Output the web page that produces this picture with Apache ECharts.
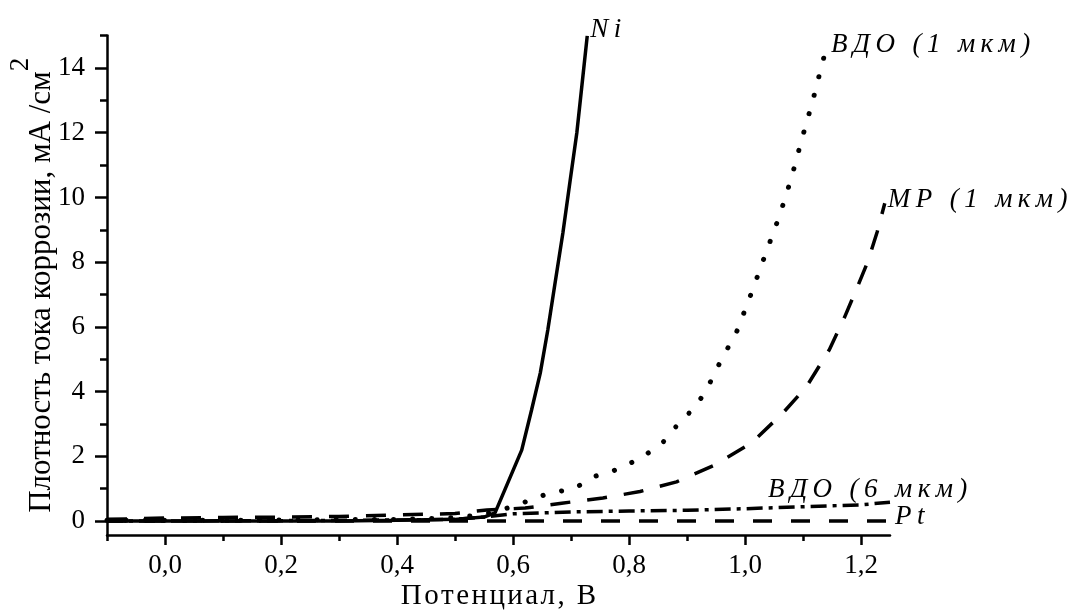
<!DOCTYPE html>
<html>
<head>
<meta charset="utf-8">
<script src="https://cdn.jsdelivr.net/npm/echarts@6/dist/echarts.min.js"></script>
<style>
  html, body { margin: 0; padding: 0; background: #fff; }
  #chart { width: 1067px; height: 610px; }
</style>
</head>
<body>
<div id="chart"></div>
<script>
// curves (potential, V -> current density, mA/cm2)
var niX = [-0.1, 0.0, 0.1, 0.2, 0.3, 0.4, 0.5, 0.55, 0.569, 0.615, 0.632, 0.647, 0.66, 0.672, 0.686, 0.698, 0.71, 0.719, 0.728];
var niY = [0.0, 0.0, 0.0, 0.0, 0.0, 0.02, 0.05, 0.12, 0.25, 2.19, 3.43, 4.57, 5.9, 7.29, 8.9, 10.45, 11.99, 13.49, 14.99];

var vdo1X = [-0.1, 0.0, 0.2, 0.4, 0.5, 0.55, 0.6, 0.664, 0.704, 0.743, 0.781, 0.821, 0.858, 0.885, 0.916, 0.936, 0.952, 0.987, 1.013, 1.036, 1.06, 1.08, 1.098, 1.117, 1.134, 1.143];
var vdo1Y = [0.02, 0.02, 0.03, 0.05, 0.1, 0.2, 0.45, 0.87, 0.99, 1.39, 1.6, 1.95, 2.42, 3.0, 3.56, 4.14, 4.73, 5.9, 7.14, 8.28, 9.46, 10.6, 11.8, 13.0, 14.2, 14.77];

var mrX = [-0.1, 0.0, 0.1, 0.2, 0.3, 0.4, 0.5, 0.555, 0.621, 0.684, 0.755, 0.819, 0.882, 0.948, 1.011, 1.065, 1.106, 1.145, 1.171, 1.193, 1.212, 1.228, 1.241];
var mrY = [0.05, 0.09, 0.11, 0.12, 0.14, 0.19, 0.23, 0.34, 0.4, 0.55, 0.71, 0.91, 1.21, 1.73, 2.41, 3.33, 4.15, 5.28, 6.27, 7.2, 8.03, 8.94, 9.82];

var vdo6X = [-0.1, 0.0, 0.2, 0.4, 0.5, 0.55, 0.6, 0.7, 0.8, 0.9, 1.0, 1.1, 1.2, 1.25];
var vdo6Y = [0.0, 0.0, 0.01, 0.03, 0.05, 0.12, 0.22, 0.28, 0.31, 0.33, 0.38, 0.44, 0.5, 0.58];

var ptX = [-0.1, 0.2, 0.5, 0.8, 1.0, 1.25];
var ptY = [0.0, 0.0, 0.0, 0.0, 0.0, 0.0];

var seriesNames = ['Ni', 'ВДО (1 мкм)', 'МР (1 мкм)', 'ВДО (6 мкм)', 'Pt'];
var xTickLabels = ['0,0', '0,2', '0,4', '0,6', '0,8', '1,0', '1,2'];
var yTickLabels = ['0', '2', '4', '6', '8', '10', '12', '14'];

function pairs (xs, ys) {
  return xs.map(function (x, i) { return [x, ys[i]]; });
}

var serif = 'Liberation Serif';
var ink = '#000';

var labelFont = {
  fontFamily: serif,
  fontStyle: 'italic',
  fontSize: 27,
  color: ink
};

function line (name, xs, ys, style, labelOffset) {
  return {
    name: name,
    type: 'line',
    xAxisIndex: 0,
    yAxisIndex: 0,
    data: pairs(xs, ys),
    showSymbol: false,
    symbol: 'none',
    lineStyle: Object.assign({ color: ink }, style),
    endLabel: Object.assign({
      show: true,
      formatter: name.split('').join('\u2009'),
      distance: 3,
      offset: labelOffset
    }, labelFont),
    emphasis: { disabled: true }
  };
}

var noLine = { show: false, onZero: false };

var chart = echarts.init(document.getElementById('chart'));

chart.setOption({
  animation: false,
  backgroundColor: '#fff',
  grid: [
    // data grid, axis lines
    { left: 107, right: 177, top: 35.6, bottom: 75, outerBoundsMode: 'none' },
    // minor ticks
    { left: 107, right: 206, top: 35.6, bottom: 89, outerBoundsMode: 'none' },
    // major ticks + labels
    { left: 165, right: 206, top: 68, bottom: 89, outerBoundsMode: 'none' }
  ],
  xAxis: [
    {
      gridIndex: 0, type: 'value', min: -0.1, max: 1.25,
      axisLine: { show: true, onZero: false, lineStyle: { color: ink, width: 2.5 } },
      axisTick: { show: false }, axisLabel: { show: false }, splitLine: { show: false },
      name: 'Потенциал, В'.split('').join('\u200a'),
      nameLocation: 'middle', nameGap: 47,
      nameTextStyle: { fontFamily: serif, fontSize: 29, color: ink }
    },
    {
      gridIndex: 1, type: 'value', min: -0.1, max: 1.2, interval: 0.1, offset: 14,
      axisLine: noLine,
      axisTick: { show: true, length: 6, lineStyle: { color: ink, width: 2.5 } },
      axisLabel: { show: false }, splitLine: { show: false }
    },
    {
      gridIndex: 2, type: 'value', min: 0, max: 1.2, interval: 0.2, offset: 14,
      axisLine: noLine,
      axisTick: { show: true, length: 10, lineStyle: { color: ink, width: 2.5 } },
      axisLabel: {
        show: true, margin: 17, fontFamily: serif, fontSize: 27, color: ink,
        formatter: function (v) { return xTickLabels[Math.round(v / 0.2)]; }
      },
      splitLine: { show: false }
    }
  ],
  yAxis: [
    {
      gridIndex: 0, type: 'value', min: -0.433, max: 15,
      axisLine: { show: true, onZero: false, lineStyle: { color: ink, width: 2.5 } },
      axisTick: { show: false }, axisLabel: { show: false }, splitLine: { show: false },
      name: '{a|Плотность тока коррозии, мА /см}{s|2}',
      nameLocation: 'middle', nameGap: 50, nameRotate: 90,
      nameTextStyle: {
        fontFamily: serif, fontSize: 31, color: ink,
        rich: {
          a: { fontFamily: serif, fontSize: 31, color: ink, lineHeight: 50, verticalAlign: 'bottom' },
          s: { fontFamily: serif, fontSize: 27, color: ink, lineHeight: 28, verticalAlign: 'top' }
        }
      }
    },
    {
      gridIndex: 1, type: 'value', min: 0, max: 15, interval: 1,
      axisLine: noLine,
      axisTick: { show: true, length: 7, lineStyle: { color: ink, width: 2.5 } },
      axisLabel: { show: false }, splitLine: { show: false }
    },
    {
      gridIndex: 2, type: 'value', min: 0, max: 14, interval: 2, offset: 58,
      axisLine: noLine,
      axisTick: { show: true, length: 12, lineStyle: { color: ink, width: 2.5 } },
      axisLabel: {
        show: true, margin: 22, fontFamily: serif, fontSize: 27, color: ink,
        formatter: function (v) { return yTickLabels[Math.round(v / 2)]; }
      },
      splitLine: { show: false }
    }
  ],
  series: [
    line(seriesNames[0], niX, niY, { width: 3.5, type: 'solid' }, [0, -6]),
    line(seriesNames[1], vdo1X, vdo1Y, { width: 5, type: [0.1, 19], cap: 'round' }, [0, 2]),
    line(seriesNames[2], mrX, mrY, { width: 3.5, type: [20, 17] }, [0, -3]),
    line(seriesNames[3], vdo6X, vdo6Y, { width: 3.5, type: [16, 6, 4, 6] }, [-125, -12]),
    line(seriesNames[4], ptX, ptY, { width: 3.5, type: [19, 19] }, [2, -4])
  ]
});
</script>
</body>
</html>
